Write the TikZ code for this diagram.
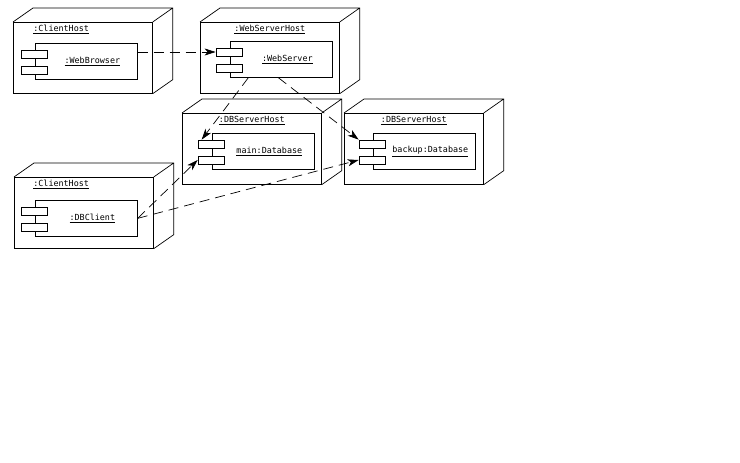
\documentclass[tikz,border=0pt]{standalone}
\usepackage{fontspec}
\setmonofont{DejaVu Sans Mono}
\usetikzlibrary{arrows.meta}
\tikzset{
every path/.style={line width=0.7pt}
, every node/.style={font=\ttfamily\fontsize{8.4}{10}\selectfont}
, hostbox/.style={draw, anchor=north west, minimum width=139, minimum height=71, inner sep=0}
, hostname/.style={inner sep=0}
, compbox/.style={draw, anchor=north west, minimum width=102, minimum height=36, inner sep=0,
    label={[xshift=6]center:\underline{#1}}}
, stub/.style={draw, fill=white, minimum width=26, minimum height=8, inner sep=0}
, dep/.style={dash pattern=on 10pt off 6pt, -{Stealth[length=11pt,width=7pt,inset=3pt]}}}

\begin{document}
\begin{tikzpicture}[x=1pt,y=-1pt]
\useasboundingbox (0,0) rectangle (740,463);
% hosts
\node[hostbox] (client) at (13,22) {};
\node[hostbox] (websrv) at (200,22) {};
\node[hostbox] (dbmain) at (182,113) {};
\node[hostbox] (dbbackup) at (344,113) {};
\node[hostbox] (client2) at (14,177) {};
\foreach \h in {client,websrv,dbmain,dbbackup,client2}
  \draw (\h.north west) -- ++(20,-14) -- ([shift={(20,-14)}]\h.north east)
    -- ([shift={(20,-14)}]\h.south east) -- (\h.south east)
    (\h.north east) -- ++(20,-14);
\node[hostname, anchor=base west] (client-l) at ([shift={(20,9.5)}]client.north west) {\underline{:ClientHost}};
\node[hostname, anchor=base] (websrv-l) at ([shift={(0,9.5)}]websrv.north) {\underline{:WebServerHost}};
\node[hostname, anchor=base] (dbmain-l) at ([shift={(0,9.5)}]dbmain.north) {\underline{:DBServerHost}};
\node[hostname, anchor=base] (dbbackup-l) at ([shift={(0,9.5)}]dbbackup.north) {\underline{:DBServerHost}};
\node[hostname, anchor=base west] (client2-l) at ([shift={(19,9.5)}]client2.north west) {\underline{:ClientHost}};
% components
\node[compbox=:WebBrowser] (browser) at (35,43) {};
\node[compbox=:WebServer] (web) at (230,41) {};
\node[compbox=main:Database] (maindb) at (212,133) {};
\node[compbox=backup:Database] (backupdb) at (373,133) {};
\node[compbox=:DBClient] (dbclient) at (35,200) {};
\foreach \c in {browser,web,maindb,backupdb,dbclient} {
  \node[stub] (\c-s1) at ([shift={(-1,11)}]\c.north west) {};
  \node[stub] (\c-s2) at ([shift={(-1,27)}]\c.north west) {};
}
% dependencies
\draw[dep] (browser.east |- web-s1.west) -- (web-s1.west);
\draw[dep] ([xshift=-33]web.south) -- ([xshift=4]maindb-s1.north west);
\draw[dep] ([xshift=-3]web.south) -- (backupdb-s1.north west);
\draw[dep] (dbclient.east) -- (maindb-s2.west);
\draw[dep] (dbclient.east) -- (backupdb-s2.west);
\end{tikzpicture}
\end{document}
